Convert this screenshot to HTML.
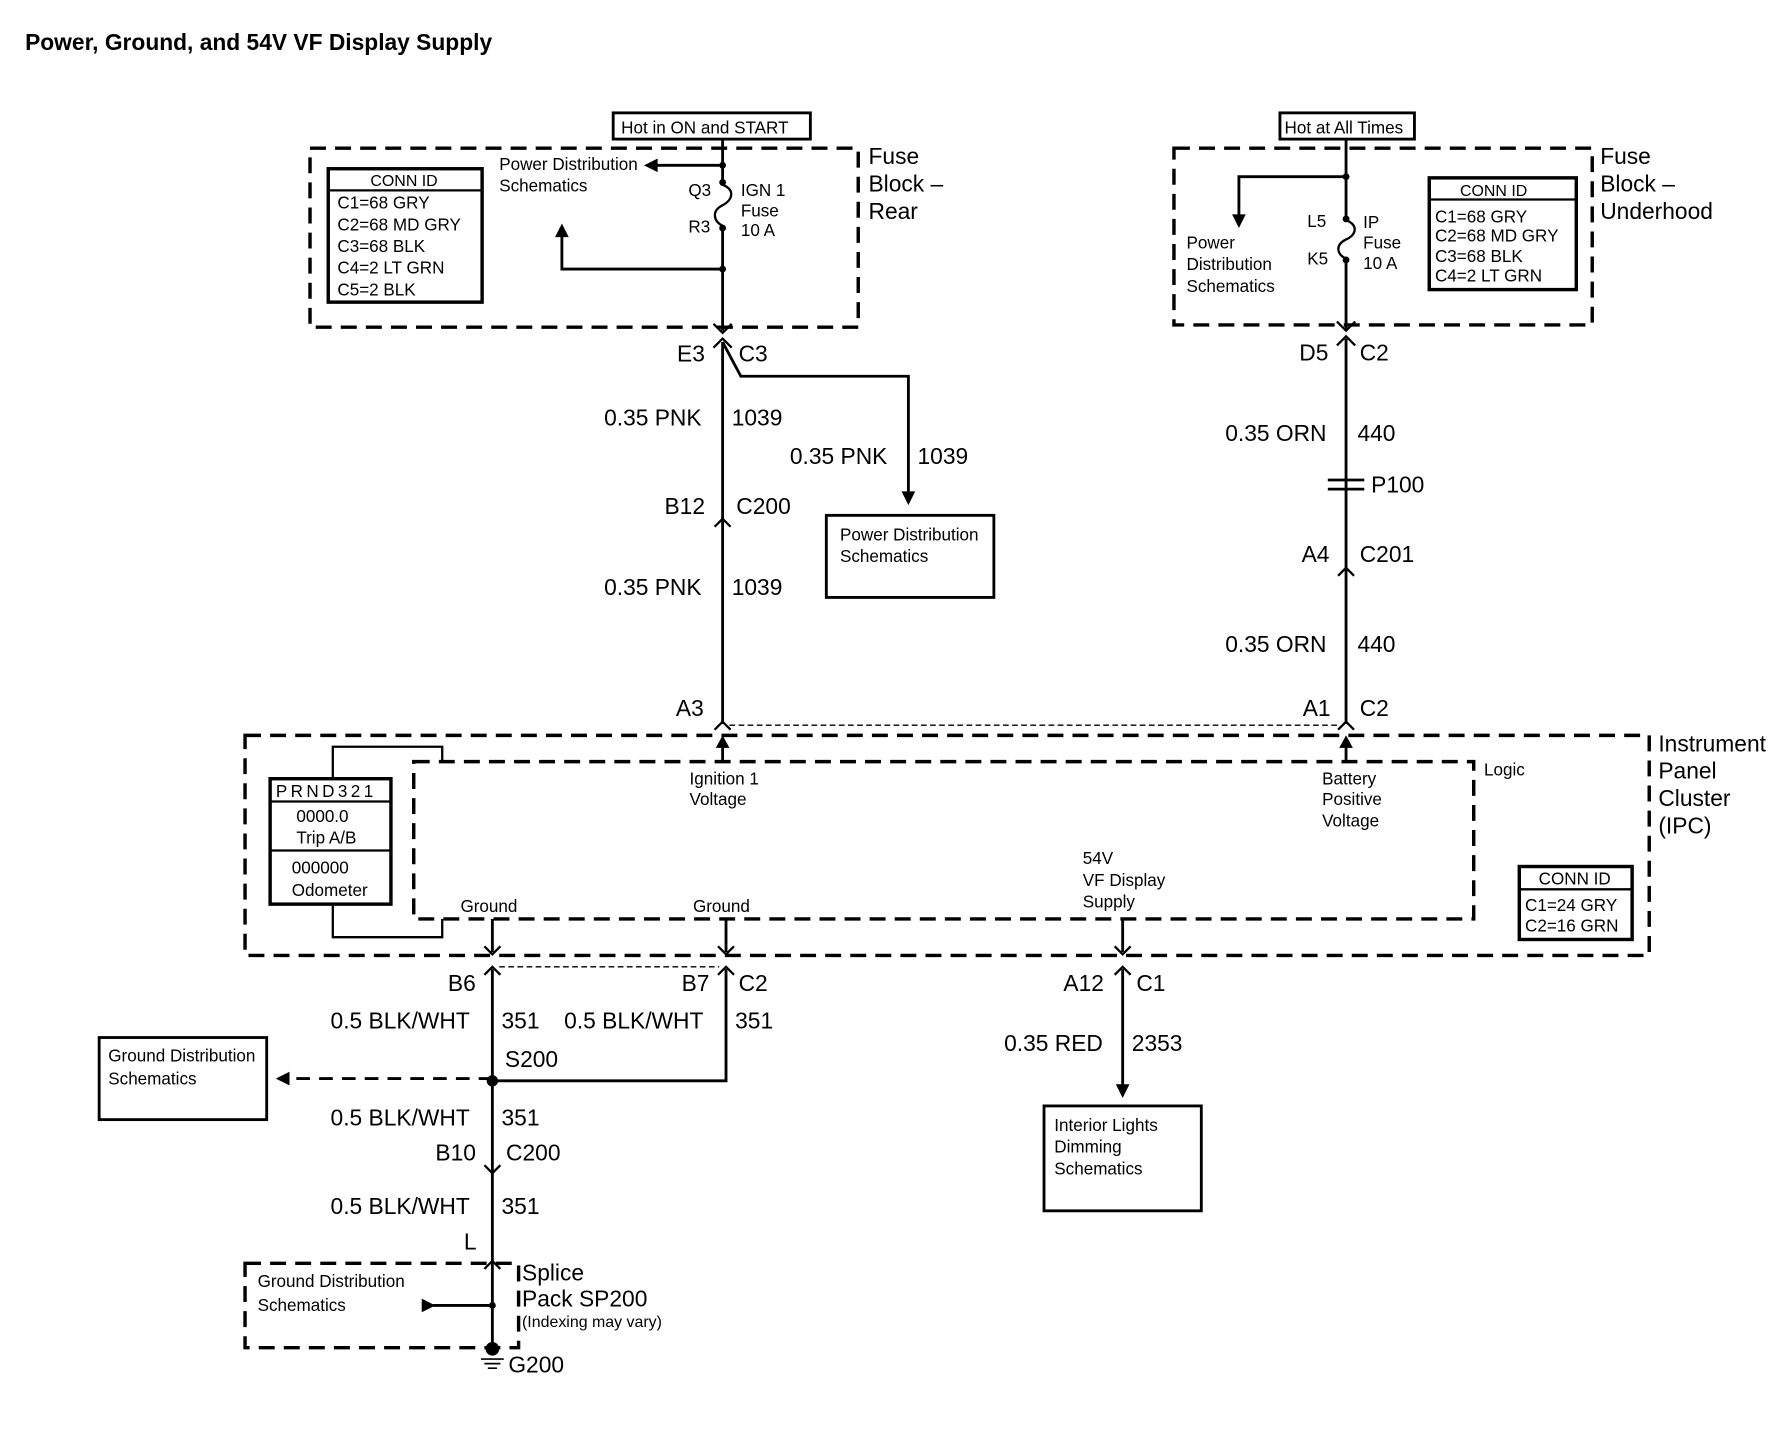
<!DOCTYPE html>
<html><head><meta charset="utf-8"><style>
html,body{margin:0;padding:0;background:#fff;}
svg{display:block}
text{font-family:"Liberation Sans",Arial,sans-serif;fill:#000}
.s{font-size:15px}
.m{font-size:20px}
.t{font-size:14px}
</style></head><body>
<svg width="1786" height="1440" viewBox="0 0 1567 1263" preserveAspectRatio="none" xmlns="http://www.w3.org/2000/svg">
<g stroke="#000" fill="none" stroke-width="2.5">
<rect x="538" y="99" width="173" height="23" stroke-width="2.5"/>
<rect x="272" y="130" width="481" height="157" stroke-dasharray="14,8" stroke-width="3"/>
<rect x="288" y="148" width="135" height="117" stroke-width="3"/>
<line x1="288" y1="167" x2="423" y2="167" stroke-width="2"/>
<path d="M634 122 V160 M634 200 V290"/>
<path d="M634 162 c12 5 8 14 0 18 c-10 5 -8 14 0 18" stroke-width="2"/>
<path d="M634 145 H575"/>
<path d="M634 236 H493 V206"/>
<path d="M626 284 L634 292 L642 284" stroke-width="2"/>
<path d="M626 305 L634 297 L642 305" stroke-width="2"/>
<path d="M634 300 V635"/>
<path d="M634 300 L650 330 H797 V435"/>
<path d="M627 462 L634 455 L641 462" stroke-width="2"/>
<rect x="725" y="452" width="147" height="72"/>
<rect x="1123" y="99" width="118" height="23"/>
<rect x="1030" y="130" width="367" height="155" stroke-dasharray="14,8" stroke-width="3"/>
<rect x="1254" y="156" width="129" height="98" stroke-width="3"/>
<line x1="1254" y1="175" x2="1383" y2="175" stroke-width="2"/>
<path d="M1181 122 V192 M1181 228 V290"/>
<path d="M1181 193 c12 5 8 14 0 17 c-10 5 -8 13 0 17" stroke-width="2"/>
<path d="M1181 155 H1087 V190"/>
<path d="M1173 282 L1181 290 L1189 282" stroke-width="2"/>
<path d="M1173 303 L1181 295 L1189 303" stroke-width="2"/>
<path d="M1181 297 V635"/>
<path d="M1165 421 H1197 M1165 429 H1197" stroke-width="2.5"/>
<path d="M1174 505 L1181 498 L1188 505" stroke-width="2"/>
<path d="M627 640 L634 633 L641 640" stroke-width="2"/>
<path d="M1174 640 L1181 633 L1188 640" stroke-width="2"/>
<line x1="640" y1="636" x2="1175" y2="636" stroke-width="1.2" stroke-dasharray="5,3"/>
<rect x="215" y="645" width="1232" height="193" stroke-dasharray="14,8" stroke-width="3"/>
<rect x="363" y="668" width="930" height="138" stroke-dasharray="14,8" stroke-width="3"/>
<rect x="1333" y="760" width="99" height="64" stroke-width="3"/>
<line x1="1333" y1="780" x2="1432" y2="780" stroke-width="2"/>
<rect x="237" y="683" width="106" height="110" stroke-width="3"/>
<line x1="237" y1="703" x2="343" y2="703" stroke-width="2"/>
<line x1="237" y1="746" x2="343" y2="746" stroke-width="2"/>
<path d="M292 683 V655 H388 V668" stroke-width="2"/>
<path d="M292 793 V822 H388 V806" stroke-width="2"/>
<path d="M634 668 V652"/>
<path d="M1181 668 V652"/>
<path d="M432 806 V835 M637 806 V835 M985 806 V835"/>
<path d="M425 830 L432 837 L439 830 M630 830 L637 837 L644 830 M978 830 L985 837 L992 830" stroke-width="2"/>
<path d="M425 855 L432 848 L439 855 M630 855 L637 848 L644 855 M978 855 L985 848 L992 855" stroke-width="2"/>
<line x1="438" y1="848" x2="631" y2="848" stroke-width="1.2" stroke-dasharray="5,3"/>
<path d="M432 850 V1183"/>
<path d="M637 850 V948 H432"/>
<path d="M985 850 V955"/>
<path d="M432 946 H250" stroke-dasharray="12,8"/>
<rect x="87" y="910" width="147" height="72"/>
<rect x="916" y="970" width="138" height="92"/>
<path d="M425 1022 L432 1029 L439 1022" stroke-width="2"/>
<path d="M425 1113 L432 1106 L439 1113" stroke-width="2"/>
<rect x="215" y="1108" width="240" height="74" stroke-dasharray="14,8" stroke-width="3"/>
<path d="M380 1145 H432"/>
<path d="M422 1192 H442 M425 1196 H439 M428 1200 H436" stroke-width="1.5"/>
</g>
<g fill="#000">
<polygon points="565,145 577,139 577,151"/>
<polygon points="493,196 487,208 499,208"/>
<polygon points="797,443 791,431 803,431"/>
<polygon points="1087,200 1081,188 1093,188"/>
<polygon points="634,645 628,656 640,656"/>
<polygon points="1181,645 1175,656 1187,656"/>
<polygon points="985,963 979,951 991,951"/>
<polygon points="242,946 254,940 254,952"/>
<polygon points="382,1145 370,1139 370,1151"/>
<circle cx="634" cy="145" r="3"/><circle cx="634" cy="160" r="3"/><circle cx="634" cy="200" r="3"/><circle cx="634" cy="236" r="3"/>
<circle cx="1181" cy="155" r="3"/><circle cx="1181" cy="192" r="3"/><circle cx="1181" cy="228" r="3"/>
<circle cx="432" cy="948" r="5"/><circle cx="432" cy="1145" r="3"/><circle cx="432" cy="1183" r="6"/>
</g>
<text x="22" y="44" style="font-size:20px;font-weight:bold">Power, Ground, and 54V VF Display Supply</text>
<text x="545" y="117" class="s">Hot in ON and START</text>
<text x="325" y="163" class="t">CONN ID</text>
<text x="296" y="183" class="s">C1=68 GRY</text>
<text x="296" y="202" class="s">C2=68 MD GRY</text>
<text x="296" y="221" class="s">C3=68 BLK</text>
<text x="296" y="240" class="s">C4=2 LT GRN</text>
<text x="296" y="259" class="s">C5=2 BLK</text>
<text x="438" y="149" class="s">Power Distribution</text>
<text x="438" y="168" class="s">Schematics</text>
<text x="604" y="172" class="s">Q3</text>
<text x="604" y="204" class="s">R3</text>
<text x="650" y="172" class="s">IGN 1</text>
<text x="650" y="190" class="s">Fuse</text>
<text x="650" y="207" class="s">10 A</text>
<text x="762" y="144" class="m">Fuse</text>
<text x="762" y="168" class="m">Block –</text>
<text x="762" y="192" class="m">Rear</text>
<text x="594" y="317" class="m">E3</text>
<text x="648" y="317" class="m">C3</text>
<text x="530" y="373" class="m">0.35 PNK</text>
<text x="642" y="373" class="m">1039</text>
<text x="693" y="407" class="m">0.35 PNK</text>
<text x="805" y="407" class="m">1039</text>
<text x="737" y="474" class="s">Power Distribution</text>
<text x="737" y="493" class="s">Schematics</text>
<text x="583" y="451" class="m">B12</text>
<text x="646" y="451" class="m">C200</text>
<text x="530" y="522" class="m">0.35 PNK</text>
<text x="642" y="522" class="m">1039</text>
<text x="593" y="628" class="m">A3</text>
<text x="1127" y="117" class="s">Hot at All Times</text>
<text x="1041" y="218" class="s">Power</text>
<text x="1041" y="237" class="s">Distribution</text>
<text x="1041" y="256" class="s">Schematics</text>
<text x="1147" y="199" class="s">L5</text>
<text x="1147" y="232" class="s">K5</text>
<text x="1196" y="200" class="s">IP</text>
<text x="1196" y="218" class="s">Fuse</text>
<text x="1196" y="236" class="s">10 A</text>
<text x="1281" y="172" class="t">CONN ID</text>
<text x="1259" y="195" class="s">C1=68 GRY</text>
<text x="1259" y="212" class="s">C2=68 MD GRY</text>
<text x="1259" y="230" class="s">C3=68 BLK</text>
<text x="1259" y="247" class="s">C4=2 LT GRN</text>
<text x="1404" y="144" class="m">Fuse</text>
<text x="1404" y="168" class="m">Block –</text>
<text x="1404" y="192" class="m">Underhood</text>
<text x="1140" y="316" class="m">D5</text>
<text x="1193" y="316" class="m">C2</text>
<text x="1075" y="387" class="m">0.35 ORN</text>
<text x="1191" y="387" class="m">440</text>
<text x="1203" y="432" class="m">P100</text>
<text x="1142" y="493" class="m">A4</text>
<text x="1193" y="493" class="m">C201</text>
<text x="1075" y="572" class="m">0.35 ORN</text>
<text x="1191" y="572" class="m">440</text>
<text x="1143" y="628" class="m">A1</text>
<text x="1193" y="628" class="m">C2</text>
<text x="1302" y="680" class="s">Logic</text>
<text x="1455" y="659" class="m">Instrument</text>
<text x="1455" y="683" class="m">Panel</text>
<text x="1455" y="707" class="m">Cluster</text>
<text x="1455" y="731" class="m">(IPC)</text>
<text x="1350" y="776" class="s">CONN ID</text>
<text x="1338" y="799" class="s">C1=24 GRY</text>
<text x="1338" y="817" class="s">C2=16 GRN</text>
<text x="242" y="699" class="s" style="letter-spacing:3px">PRND321</text>
<text x="260" y="721" class="s">0000.0</text>
<text x="260" y="740" class="s">Trip A/B</text>
<text x="256" y="766" class="s">000000</text>
<text x="256" y="786" class="s">Odometer</text>
<text x="605" y="688" class="s">Ignition 1</text>
<text x="605" y="706" class="s">Voltage</text>
<text x="1160" y="688" class="s">Battery</text>
<text x="1160" y="706" class="s">Positive</text>
<text x="1160" y="725" class="s">Voltage</text>
<text x="950" y="758" class="s">54V</text>
<text x="950" y="777" class="s">VF Display</text>
<text x="950" y="796" class="s">Supply</text>
<text x="404" y="800" class="s">Ground</text>
<text x="608" y="800" class="s">Ground</text>
<text x="393" y="869" class="m">B6</text>
<text x="598" y="869" class="m">B7</text>
<text x="648" y="869" class="m">C2</text>
<text x="933" y="869" class="m">A12</text>
<text x="997" y="869" class="m">C1</text>
<text x="290" y="902" class="m">0.5 BLK/WHT</text>
<text x="440" y="902" class="m">351</text>
<text x="495" y="902" class="m">0.5 BLK/WHT</text>
<text x="645" y="902" class="m">351</text>
<text x="443" y="936" class="m">S200</text>
<text x="95" y="931" class="s">Ground Distribution</text>
<text x="95" y="951" class="s">Schematics</text>
<text x="881" y="922" class="m">0.35 RED</text>
<text x="993" y="922" class="m">2353</text>
<text x="925" y="992" class="s">Interior Lights</text>
<text x="925" y="1011" class="s">Dimming</text>
<text x="925" y="1030" class="s">Schematics</text>
<text x="290" y="987" class="m">0.5 BLK/WHT</text>
<text x="440" y="987" class="m">351</text>
<text x="382" y="1018" class="m">B10</text>
<text x="444" y="1018" class="m">C200</text>
<text x="290" y="1065" class="m">0.5 BLK/WHT</text>
<text x="440" y="1065" class="m">351</text>
<text x="407" y="1096" class="m">L</text>
<text x="226" y="1129" class="s">Ground Distribution</text>
<text x="226" y="1150" class="s">Schematics</text>
<text x="458" y="1123" class="m">Splice</text>
<text x="458" y="1146" class="m">Pack SP200</text>
<text x="458" y="1164" class="t">(Indexing may vary)</text>
<text x="446" y="1204" class="m">G200</text>
</svg>
</body></html>
